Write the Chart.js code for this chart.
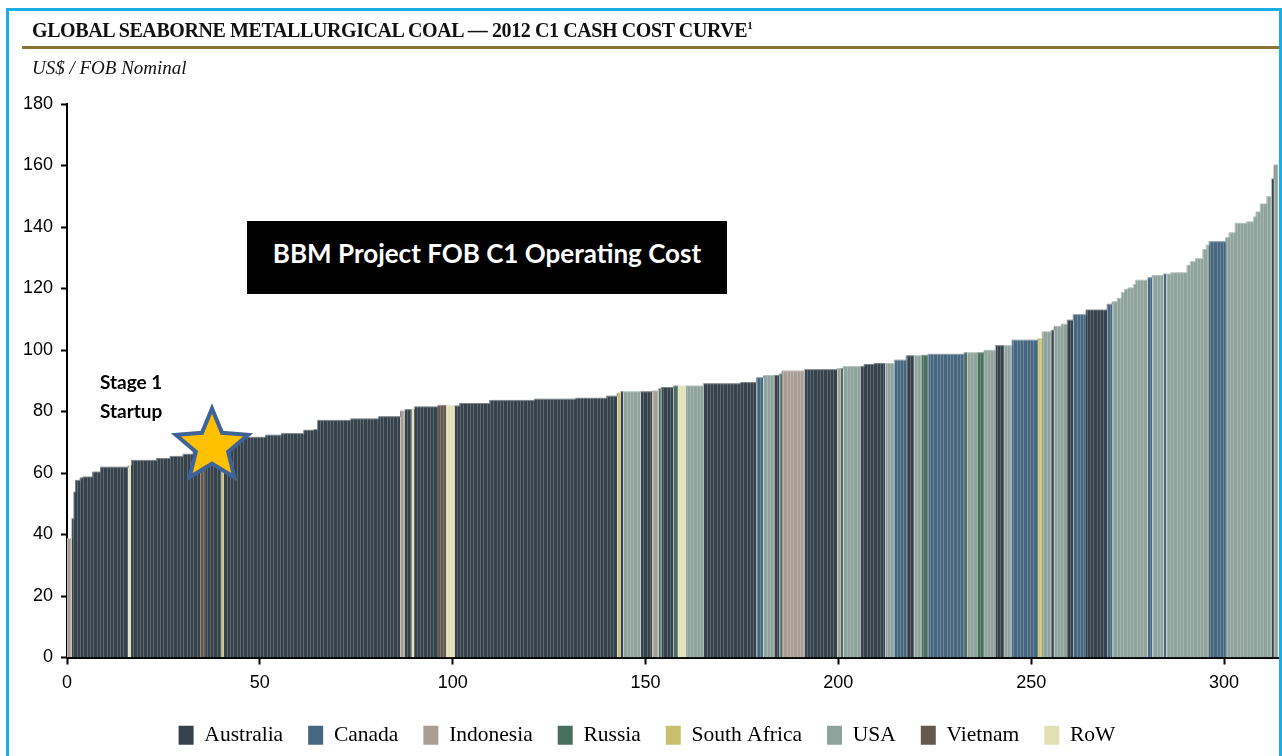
<!DOCTYPE html>
<html><head><meta charset="utf-8">
<script src="https://cdn.jsdelivr.net/npm/chart.js@4.4.1/dist/chart.umd.min.js"></script>
<style>
html,body{margin:0;padding:0;background:#fff;}
#wrap{position:relative;width:1282px;height:756px;overflow:hidden;background:#fff;}
#frame{position:absolute;left:6px;top:8px;width:1276px;height:800px;border:3px solid #19aee6;box-sizing:border-box;z-index:3;pointer-events:none;}
#title{position:absolute;left:32px;top:19px;font:bold 20px 'Liberation Serif',serif;color:#111;white-space:nowrap;z-index:2;letter-spacing:-0.4px;}
#title sup{font-size:11px;}
#rule{position:absolute;left:22px;right:0;top:46px;height:3px;background:#8a7434;z-index:2;}
#sub{position:absolute;left:32px;top:57px;font:italic 19px 'Liberation Serif',serif;color:#111;z-index:2;}
#box{position:absolute;left:247px;top:221px;width:480px;height:73px;box-sizing:border-box;padding-bottom:10px;background:#000;color:#fff;font:bold 26px Lato,sans-serif;display:flex;align-items:center;justify-content:center;z-index:2;}
.stage{position:absolute;left:100px;font:bold 19px Lato,sans-serif;color:#000;z-index:2;}
canvas{position:absolute;left:0;top:0;}
</style></head>
<body>
<div id="wrap">
<canvas id="c" width="1282" height="756"></canvas>
<div id="frame"></div>
<div id="title">GLOBAL SEABORNE METALLURGICAL COAL — 2012 C1 CASH COST CURVE<sup>1</sup></div>
<div id="rule"></div>
<div id="sub">US$ / FOB Nominal</div>
<div id="box">BBM Project FOB C1 Operating Cost</div>
<div class="stage" style="top:370px">Stage 1</div>
<div class="stage" style="top:399px">Startup</div>
</div>
<script>
// ---- legend / countries ----
const countryCodes  = ['AU','CA','ID','RU','ZA','US','VN','RW'];
const countryNames  = ['Australia','Canada','Indonesia','Russia','South Africa','USA','Vietnam','RoW'];
const countryColors = ['#36424b','#46677f','#a79d95','#4a6f5f','#c9c06f','#8fa39c','#64574d','#e2e0b2'];

// ---- cost curve: cumulative volume boundaries (x), C1 cost (y), country per block ----
const blockStart = [
  0, 1.2, 1.8, 2.2, 3.4, 4.1, 6.6, 8.7, 15.9, 16.6,
  23.2, 26.7, 30.1, 32.7, 34.5, 35.8, 38.0, 40.1, 40.7, 51.5,
  55.6, 61.4, 64.0, 65.0, 73.6, 80.8, 86.5, 87.6, 89.4, 90.0,
  96.2, 98.4, 100.5, 101.8, 109.6, 121.2, 131.9, 139.9, 142.7, 143.5,
  144.3, 148.7, 151.8, 153.4, 154.1, 157.3, 158.5, 160.4, 165.0, 174.6,
  178.8, 180.6, 183.4, 184.7, 185.4, 191.2, 199.7, 200.5, 201.3, 205.7,
  206.7, 209.3, 212.2, 214.5, 217.6, 219.7, 221.5, 223.3, 232.6, 233.4,
  236.0, 237.8, 240.7, 243.0, 245.0, 251.8, 252.8, 255.2, 256.0, 257.8,
  259.3, 260.9, 264.2, 269.7, 271.0, 272.3, 273.4, 274.2, 275.1, 276.5,
  277.1, 280.2, 281.4, 284.3, 285.1, 286.2, 290.4, 291.3, 292.6, 294.5,
  295.4, 296.1, 300.5, 301.3, 302.9, 305.9, 307.7, 308.3, 309.4, 311.1,
  312.3, 313.0
];
const curveEnd = 314.0;
const blockCost = [
  38.6, 45.1, 53.8, 57.6, 58.4, 58.7, 60.3, 61.9, 62.5, 64.1,
  64.7, 65.4, 66.1, 67.2, 68.0, 68.8, 70.2, 71.0, 71.6, 72.3,
  72.8, 73.9, 74.1, 77.1, 77.6, 78.3, 80.2, 80.6, 80.8, 81.5,
  82.0, 82.0, 81.8, 82.6, 83.6, 84.0, 84.3, 85.0, 86.0, 86.4,
  86.4, 86.4, 86.7, 87.4, 87.8, 88.3, 88.3, 88.3, 89.0, 89.4,
  91.0, 91.7, 91.7, 92.2, 93.2, 93.6, 94.0, 94.0, 94.6, 94.6,
  95.3, 95.6, 95.6, 96.7, 98.1, 98.1, 98.3, 98.6, 99.1, 99.1,
  99.1, 99.9, 101.4, 101.4, 103.2, 103.7, 105.9, 106.4, 107.7, 108.4,
  109.7, 111.5, 113.0, 114.9, 115.7, 116.8, 118.7, 119.7, 120.2, 121.3,
  122.7, 123.5, 124.2, 124.7, 124.7, 125.1, 127.6, 128.7, 129.7, 132.7,
  134.1, 135.2, 136.6, 138.1, 141.2, 141.7, 143.3, 144.9, 147.5, 149.9,
  155.6, 160.2
];
const blockCountry = [
  'ID','AU','AU','AU','AU','AU','AU','AU','RW','AU',
  'AU','AU','AU','AU','VN','AU','AU','ZA','AU','AU',
  'AU','AU','AU','AU','AU','AU','ID','AU','RW','AU',
  'VN','RW','AU','AU','AU','AU','AU','AU','ZA','AU',
  'US','AU','ID','RU','AU','RU','RW','US','AU','AU',
  'CA','US','AU','RU','ID','AU','ID','RU','US','AU',
  'AU','AU','US','CA','AU','US','RU','CA','RU','US',
  'RU','US','AU','US','CA','ZA','US','AU','US','US',
  'AU','CA','AU','CA','US','US','US','US','US','US',
  'US','CA','US','CA','US','US','US','US','US','US',
  'US','CA','US','US','US','US','US','US','US','US',
  'AU','US'
];

// ---- axis ticks ----
const xTickStep = 50, xMax = 314;
const yTickStep = 20, yMax = 180;

// ---- project marker ----
const starX = 37.6, starY = 68.6;

// textured fills (striped look of the dense mine bars)
function mix(hex, t) {
  const n = parseInt(hex.slice(1), 16);
  const r = (n >> 16) & 255, g = (n >> 8) & 255, b = n & 255;
  const f = v => Math.round(v + (255 - v) * t);
  return `rgb(${f(r)},${f(g)},${f(b)})`;
}
function makePattern(base) {
  const c = document.createElement('canvas');
  c.width = 10; c.height = 4;
  const g = c.getContext('2d');
  g.fillStyle = base; g.fillRect(0, 0, 10, 4);
  g.fillStyle = mix(base, 0.2);
  [0, 3, 7].forEach(x => g.fillRect(x, 0, 1, 4));
  return g.createPattern(c, 'repeat');
}
const fillByCode = {}, edgeByCode = {};
countryCodes.forEach((c, i) => {
  fillByCode[c] = makePattern(countryColors[i]);
  edgeByCode[c] = mix(countryColors[i], 0.35);
});

const points = blockStart.map((x, i) => ({x: x, y: blockCost[i]}));
points.push({x: curveEnd, y: blockCost[blockCost.length - 1]});

const starPlugin = {
  id: 'star',
  afterDatasetsDraw(chart) {
    const {ctx, scales} = chart;
    const cx = scales.x.getPixelForValue(starX);
    const cy = scales.y.getPixelForValue(starY);
    const R = 38, r = 17;
    ctx.save();
    ctx.beginPath();
    for (let k = 0; k < 10; k++) {
      const a = -Math.PI / 2 + k * Math.PI / 5;
      const rad = k % 2 === 0 ? R : r;
      const px = cx + rad * Math.cos(a), py = cy + rad * Math.sin(a);
      k === 0 ? ctx.moveTo(px, py) : ctx.lineTo(px, py);
    }
    ctx.closePath();
    ctx.fillStyle = '#ffc000';
    ctx.fill();
    ctx.lineWidth = 4;
    ctx.lineJoin = 'miter';
    ctx.strokeStyle = '#3d6399';
    ctx.stroke();
    ctx.restore();
  }
};

const tickFont = {family: "'Liberation Sans', Arial, sans-serif", size: 18};

new Chart(document.getElementById('c'), {
  type: 'line',
  data: {
    datasets: [{
      label: 'C1 cash cost',
      data: points,
      stepped: 'before',
      fill: 'origin',
      pointRadius: 0,
      borderWidth: 1,
      tension: 0,
      borderColor: '#8e979c',
      backgroundColor: fillByCode.AU,
      segment: {
        backgroundColor: ctx => fillByCode[blockCountry[ctx.p0DataIndex]],
        borderColor: ctx => edgeByCode[blockCountry[ctx.p0DataIndex]]
      }
    }]
  },
  options: {
    responsive: false,
    devicePixelRatio: 1,
    animation: false,
    layout: {padding: {top: 104, right: 4, left: 16, bottom: 0}},
    plugins: {
      tooltip: {enabled: false},
      legend: {
        position: 'bottom',
        onClick: null,
        labels: {
          boxWidth: 15,
          boxHeight: 19,
          padding: 25,
          color: '#111',
          font: {family: "'Liberation Serif', serif", size: 21.5},
          generateLabels: () => countryNames.map((n, i) => ({
            text: n, fillStyle: countryColors[i], strokeStyle: countryColors[i],
            lineWidth: 0, hidden: false, datasetIndex: 0
          }))
        }
      }
    },
    scales: {
      x: {
        type: 'linear', min: 0, max: xMax,
        afterBuildTicks: s => { s.ticks = s.ticks.filter(t => t.value % xTickStep === 0); },
        afterFit: s => { s.height = 42; },
        ticks: {stepSize: xTickStep, color: '#000', font: tickFont, padding: 8, maxRotation: 0},
        grid: {drawOnChartArea: false, drawTicks: true, tickLength: 7, tickWidth: 2, tickColor: '#000'},
        border: {display: true, color: '#000', width: 2}
      },
      y: {
        type: 'linear', min: 0, max: yMax,
        afterFit: s => { s.width = 51; },
        ticks: {stepSize: yTickStep, color: '#000', font: tickFont, padding: 8},
        grid: {drawOnChartArea: false, drawTicks: true, tickLength: 6, tickWidth: 2, tickColor: '#000'},
        border: {display: true, color: '#000', width: 2}
      }
    }
  },
  plugins: [starPlugin]
});
</script>
</body></html>
